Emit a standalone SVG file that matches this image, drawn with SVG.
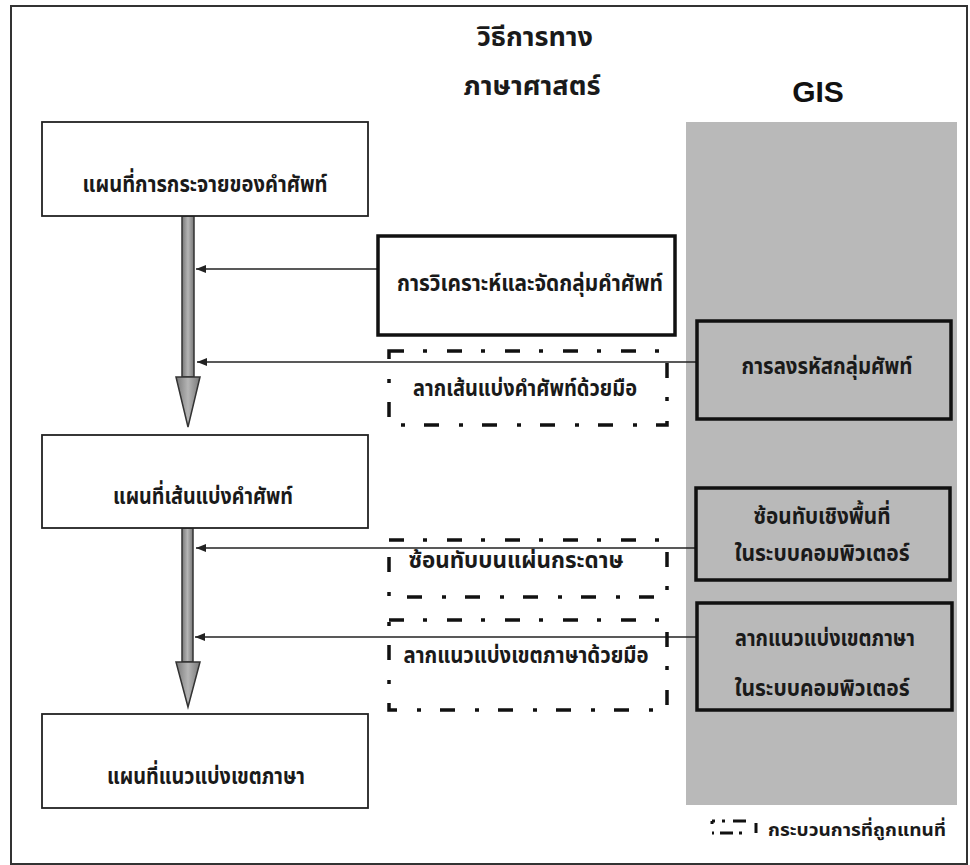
<svg xmlns="http://www.w3.org/2000/svg" width="970" height="865" viewBox="0 0 970 865">
<defs>
<style>
.t{font-family:"Noto Sans Thai","Noto Serif Thai","Garuda","Loma","Tlwg Typo","DejaVu Sans",sans-serif;font-weight:bold;fill:#1a1a1a;text-anchor:middle;}
.box{fill:#fff;stroke:#222;stroke-width:1.8;}
.gbox{fill:none;stroke:#111;stroke-width:3.5;}
.thick{fill:#fff;stroke:#111;stroke-width:3.5;}
.dd{fill:none;stroke:#111;stroke-width:3.5;stroke-dasharray:15 19 4 20;}
.con{stroke:#222;stroke-width:1.6;fill:none;marker-end:url(#ah);}
.big{fill:url(#gg);stroke:#333;stroke-width:1.5;}
</style>
<marker id="ah" viewBox="0 0 10 8" refX="10" refY="4" markerWidth="10" markerHeight="8" markerUnits="userSpaceOnUse" orient="auto">
<path d="M0,0 L10,4 L0,8 Z" fill="#222"/>
</marker>
<linearGradient id="gg" x1="0" x2="1" y1="0" y2="0">
<stop offset="0" stop-color="#777"/>
<stop offset="0.5" stop-color="#b5b5b5"/>
<stop offset="1" stop-color="#777"/>
</linearGradient>
</defs>
<rect x="0" y="0" width="970" height="865" fill="#fff"/>
<rect x="11" y="6" width="956" height="858" fill="none" stroke="#333" stroke-width="2"/>
<g id="gis-panel">
<rect x="686" y="122" width="271" height="683" fill="#b9b9b9"/>
</g>
<g id="headers">
<text class="t" x="535" y="46" font-size="26" textLength="116" lengthAdjust="spacingAndGlyphs">วิธีการทาง</text>
<text class="t" x="532" y="95" font-size="26" textLength="137" lengthAdjust="spacingAndGlyphs">ภาษาศาสตร์</text>
<text x="818" y="102" font-family="Liberation Sans, Arial, sans-serif" font-weight="bold" font-size="30" text-anchor="middle" fill="#111">GIS</text>
</g>
<g id="connectors">
<rect class="big" x="182" y="216" width="12" height="161"/>
<polygon class="big" points="176,377 200,377 188,427"/>
<rect class="big" x="182" y="528" width="11" height="134"/>
<polygon class="big" points="176,662 200,662 188,707"/>
<line class="con" x1="378" y1="269" x2="196" y2="269"/>
<line class="con" x1="697" y1="362" x2="197" y2="362"/>
<line class="con" x1="695" y1="548" x2="196" y2="548"/>
<line class="con" x1="697" y1="637" x2="195" y2="637"/>
</g>
<g id="n1">
<rect class="box" x="42" y="122" width="326" height="94"/>
<text class="t" x="205" y="192" font-size="23" textLength="245" lengthAdjust="spacingAndGlyphs">แผนที่การกระจายของคำศัพท์</text>
</g>
<g id="n2">
<rect class="thick" x="378" y="236" width="297" height="99"/>
<text class="t" x="530" y="291" font-size="23" textLength="266" lengthAdjust="spacingAndGlyphs">การวิเคราะห์และจัดกลุ่มคำศัพท์</text>
</g>
<g id="n3">
<rect class="dd" x="389" y="351" width="278" height="74"/>
<text class="t" x="525" y="396" font-size="23" textLength="224" lengthAdjust="spacingAndGlyphs">ลากเส้นแบ่งคำศัพท์ด้วยมือ</text>
</g>
<g id="n4">
<rect class="gbox" x="697" y="321" width="254" height="98"/>
<text class="t" x="827" y="374" font-size="23" textLength="171" lengthAdjust="spacingAndGlyphs">การลงรหัสกลุ่มศัพท์</text>
</g>
<g id="n5">
<rect class="box" x="42" y="435" width="326" height="93"/>
<text class="t" x="203" y="504" font-size="23" textLength="180" lengthAdjust="spacingAndGlyphs">แผนที่เส้นแบ่งคำศัพท์</text>
</g>
<g id="n6">
<rect class="dd" x="389" y="540" width="278" height="57"/>
<text class="t" x="516" y="568" font-size="23" textLength="215" lengthAdjust="spacingAndGlyphs">ซ้อนทับบนแผ่นกระดาษ</text>
</g>
<g id="n7">
<rect class="dd" x="389" y="620" width="278" height="90"/>
<text class="t" x="526" y="663" font-size="23" textLength="245" lengthAdjust="spacingAndGlyphs">ลากแนวแบ่งเขตภาษาด้วยมือ</text>
</g>
<g id="n8">
<rect class="gbox" x="696" y="488" width="254" height="92"/>
<text class="t" x="822" y="524" font-size="23" textLength="137" lengthAdjust="spacingAndGlyphs">ซ้อนทับเชิงพื้นที่</text>
<text class="t" x="822" y="561" font-size="23" textLength="175" lengthAdjust="spacingAndGlyphs">ในระบบคอมพิวเตอร์</text>
</g>
<g id="n9">
<rect class="gbox" x="697" y="603" width="255" height="107"/>
<text class="t" x="825" y="646" font-size="23" textLength="180" lengthAdjust="spacingAndGlyphs">ลากแนวแบ่งเขตภาษา</text>
<text class="t" x="822" y="696" font-size="23" textLength="175" lengthAdjust="spacingAndGlyphs">ในระบบคอมพิวเตอร์</text>
</g>
<g id="n10">
<rect class="box" x="42" y="714" width="326" height="94"/>
<text class="t" x="206" y="784" font-size="23" textLength="198" lengthAdjust="spacingAndGlyphs">แผนที่แนวแบ่งเขตภาษา</text>
</g>
<g id="legend">
<path d="M712,821 L712,824 M712,821 L715,821 M722,821 L725,821 M733,821 L746,821 M712,833 L714,833 M720,833 L733,833 M739,833 L742,833 M756,823 L756,833" stroke="#111" stroke-width="3" fill="none"/>
<text class="t" x="857" y="836" font-size="18" textLength="178" lengthAdjust="spacingAndGlyphs">กระบวนการที่ถูกแทนที่</text>
</g>
</svg>
